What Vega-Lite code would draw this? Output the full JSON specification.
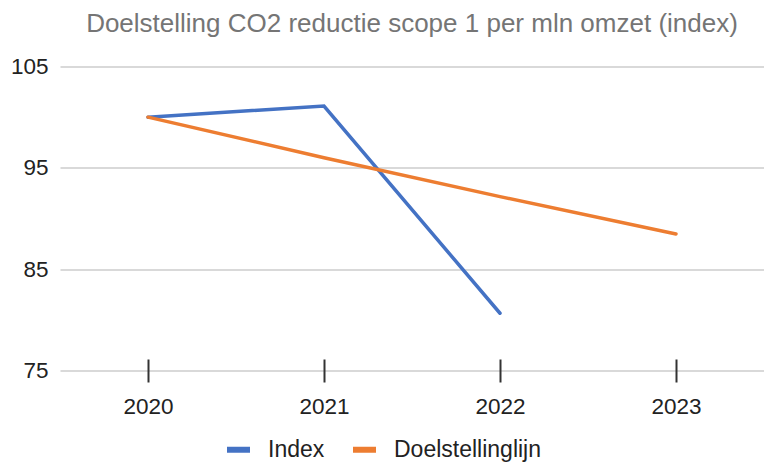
{
  "$schema": "https://vega.github.io/schema/vega-lite/v6.json",
  "autosize": {"type": "none"},
  "width": 704,
  "height": 304,
  "padding": {"left": 60, "top": 66.5, "right": 0, "bottom": 95.5},
  "background": "white",
  "title": {
    "text": "Doelstelling CO2 reductie scope 1 per mln omzet (index)",
    "font": "Liberation Sans, Arial, sans-serif",
    "fontSize": 26,
    "fontWeight": "normal",
    "color": "#757575",
    "anchor": "middle",
    "frame": "group",
    "baseline": "alphabetic",
    "offset": -2
  },
  "data": {
    "values": [
      {"year": "2020", "series": "Index", "value": 100},
      {"year": "2021", "series": "Index", "value": 101.1},
      {"year": "2022", "series": "Index", "value": 80.65},
      {"year": "2020", "series": "Doelstellinglijn", "value": 100},
      {"year": "2021", "series": "Doelstellinglijn", "value": 96},
      {"year": "2022", "series": "Doelstellinglijn", "value": 92.16},
      {"year": "2023", "series": "Doelstellinglijn", "value": 88.47}
    ]
  },
  "mark": {"type": "line", "strokeWidth": 3.5, "strokeCap": "round"},
  "encoding": {
    "x": {
      "field": "year",
      "type": "ordinal",
      "scale": {"type": "point", "padding": 0.5},
      "axis": {
        "title": null,
        "labelAngle": 0,
        "domain": false,
        "grid": false,
        "offset": -11.5,
        "tickSize": 23,
        "tickWidth": 2,
        "tickColor": "#333333",
        "labelPadding": 13,
        "labelFont": "Liberation Sans, Arial, sans-serif",
        "labelFontSize": 22.5,
        "labelColor": "#222222"
      }
    },
    "y": {
      "field": "value",
      "type": "quantitative",
      "scale": {"domain": [75, 105], "nice": false, "zero": false},
      "axis": {
        "title": null,
        "values": [75, 85, 95, 105],
        "domain": false,
        "ticks": false,
        "tickSize": 0,
        "labelPadding": 12,
        "labelFont": "Liberation Sans, Arial, sans-serif",
        "labelFontSize": 22.5,
        "labelColor": "#222222",
        "gridColor": "#cccccc",
        "gridWidth": 1.5
      }
    },
    "color": {
      "field": "series",
      "type": "nominal",
      "sort": ["Index", "Doelstellinglijn"],
      "scale": {"domain": ["Index", "Doelstellinglijn"], "range": ["#4472C4", "#ED7D31"]},
      "legend": {
        "title": null,
        "orient": "none",
        "direction": "horizontal",
        "legendX": 164,
        "legendY": 368.5,
        "symbolType": "stroke",
        "symbolStrokeWidth": 6,
        "symbolSize": 529,
        "labelFont": "Liberation Sans, Arial, sans-serif",
        "labelFontSize": 23,
        "labelColor": "#222222",
        "labelOffset": 15,
        "columnPadding": 16
      }
    }
  },
  "config": {"view": {"stroke": null}}
}
